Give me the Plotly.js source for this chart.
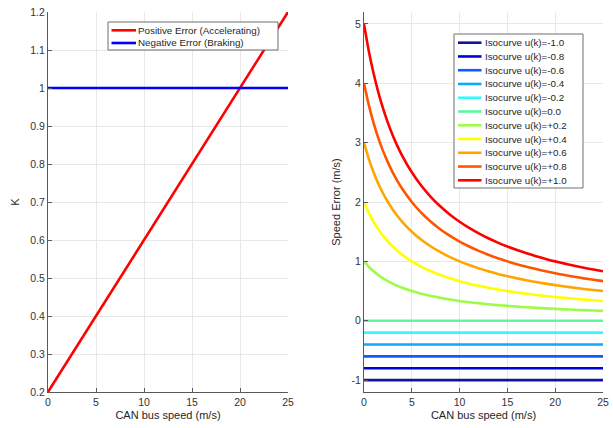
<!DOCTYPE html>
<html>
<head>
<meta charset="utf-8">
<script src="https://cdn.plot.ly/plotly-3.0.1.min.js"></script>
<style>
  html, body { margin: 0; padding: 0; background: #ffffff; }
  #chart { width: 613px; height: 428px; }
</style>
</head>
<body>
<div id="chart"></div>
<script>
// ---- Gain K versus CAN bus speed ----
const kSpeed = [0, 25];
const kAccel = [0.2, 1.2];
const kBrake = [1, 1];
const kNames = ['Positive Error (Accelerating)', 'Negative Error (Braking)'];
const kColors = ['#ff0000', '#0000ff'];
const kTickVals = [0.2, 0.3, 0.4, 0.5, 0.6, 0.7, 0.8, 0.9, 1, 1.1, 1.2];
const kTickText = ['0.2', '0.3', '0.4', '0.5', '0.6', '0.7', '0.8', '0.9', '1', '1.1', '1.2'];

// ---- Speed-error isocurves ----
const isoSpeed = [0, 0.5, 1, 1.5, 2, 2.5, 3, 3.5, 4, 5, 6, 7, 8, 9, 10, 11, 12, 13, 14, 15,
                  16, 17, 18, 19, 20, 21, 22, 23, 24, 25];
const flatSpeed = [0, 25];
const isoM10 = [-1.0, -1.0];
const isoM08 = [-0.8, -0.8];
const isoM06 = [-0.6, -0.6];
const isoM04 = [-0.4, -0.4];
const isoM02 = [-0.2, -0.2];
const iso00  = [0.0, 0.0];
const isoP02 = [1.000, 0.909, 0.833, 0.769, 0.714, 0.667, 0.625, 0.588, 0.556, 0.500, 0.455, 0.417, 0.385, 0.357, 0.333,
                0.313, 0.294, 0.278, 0.263, 0.250, 0.238, 0.227, 0.217, 0.208, 0.200, 0.192, 0.185, 0.179, 0.172, 0.167];
const isoP04 = [2.000, 1.818, 1.667, 1.538, 1.429, 1.333, 1.250, 1.176, 1.111, 1.000, 0.909, 0.833, 0.769, 0.714, 0.667,
                0.625, 0.588, 0.556, 0.526, 0.500, 0.476, 0.455, 0.435, 0.417, 0.400, 0.385, 0.370, 0.357, 0.345, 0.333];
const isoP06 = [3.000, 2.727, 2.500, 2.308, 2.143, 2.000, 1.875, 1.765, 1.667, 1.500, 1.364, 1.250, 1.154, 1.071, 1.000,
                0.938, 0.882, 0.833, 0.789, 0.750, 0.714, 0.682, 0.652, 0.625, 0.600, 0.577, 0.556, 0.536, 0.517, 0.500];
const isoP08 = [4.000, 3.636, 3.333, 3.077, 2.857, 2.667, 2.500, 2.353, 2.222, 2.000, 1.818, 1.667, 1.538, 1.429, 1.333,
                1.250, 1.176, 1.111, 1.053, 1.000, 0.952, 0.909, 0.870, 0.833, 0.800, 0.769, 0.741, 0.714, 0.690, 0.667];
const isoP10 = [5.000, 4.545, 4.167, 3.846, 3.571, 3.333, 3.125, 2.941, 2.778, 2.500, 2.273, 2.083, 1.923, 1.786, 1.667,
                1.563, 1.471, 1.389, 1.316, 1.250, 1.190, 1.136, 1.087, 1.042, 1.000, 0.962, 0.926, 0.893, 0.862, 0.833];
const isoNames = ['Isocurve u(k)=-1.0', 'Isocurve u(k)=-0.8', 'Isocurve u(k)=-0.6', 'Isocurve u(k)=-0.4',
                  'Isocurve u(k)=-0.2', 'Isocurve u(k)=0.0', 'Isocurve u(k)=+0.2', 'Isocurve u(k)=+0.4',
                  'Isocurve u(k)=+0.6', 'Isocurve u(k)=+0.8', 'Isocurve u(k)=+1.0'];
const isoColors = ['#14149a', '#0000dd', '#0d5cff', '#0fa8ff', '#30fcfc', '#60f5a3',
                   '#9ffb48', '#ffff00', '#ffa500', '#ff5500', '#ff0000'];
const errTickVals = [-1, 0, 1, 2, 3, 4, 5];
const errTickText = ['-1', '0', '1', '2', '3', '4', '5'];
const speedTickVals = [0, 5, 10, 15, 20, 25];
const speedTickText = ['0', '5', '10', '15', '20', '25'];

const W = 613, H = 428;
const px = x => x / W;
const py = y => 1 - y / H;
const LW = 2.6;

const traces = [
  { x: kSpeed, y: kAccel, name: kNames[0], line: { color: kColors[0], width: LW } },
  { x: kSpeed, y: kBrake, name: kNames[1], line: { color: kColors[1], width: LW } }
].map(t => Object.assign({ type: 'scatter', mode: 'lines', xaxis: 'x', yaxis: 'y', hoverinfo: 'skip' }, t));

const isoSeries = [
  [flatSpeed, isoM10], [flatSpeed, isoM08], [flatSpeed, isoM06], [flatSpeed, isoM04],
  [flatSpeed, isoM02], [flatSpeed, iso00], [isoSpeed, isoP02], [isoSpeed, isoP04],
  [isoSpeed, isoP06], [isoSpeed, isoP08], [isoSpeed, isoP10]
];
isoSeries.forEach((s, i) => {
  traces.push({
    type: 'scatter', mode: 'lines', x: s[0], y: s[1], name: isoNames[i],
    xaxis: 'x2', yaxis: 'y2', hoverinfo: 'skip',
    line: { color: isoColors[i], width: LW, shape: 'spline', smoothing: 0.8 }
  });
});

const axisStyle = {
  showline: true, linecolor: '#5a5a5a', linewidth: 1,
  ticks: 'inside', ticklen: 4, tickcolor: '#5a5a5a', tickwidth: 1,
  showgrid: true, gridcolor: '#e8e8e8', gridwidth: 1,
  zeroline: false, fixedrange: true,
  tickfont: { family: 'Liberation Sans, Arial, sans-serif', size: 10.5, color: '#333333' },
  tickmode: 'array'
};
const titleFont = { family: 'Liberation Sans, Arial, sans-serif', size: 11, color: '#262626' };

const shapes = [];
const annotations = [];

// Boxed key: a frame, a short line sample and a label per entry
function addKey(names, colors, box, firstRowY, rowStep, lineX0, lineX1, textX) {
  shapes.push({ type: 'rect', xref: 'paper', yref: 'paper',
    x0: px(box[0]), x1: px(box[2]), y0: py(box[3]), y1: py(box[1]),
    line: { color: '#6e6e6e', width: 1 }, fillcolor: '#ffffff', layer: 'above' });
  names.forEach((n, i) => {
    const yy = firstRowY + i * rowStep;
    shapes.push({ type: 'line', xref: 'paper', yref: 'paper',
      x0: px(lineX0), x1: px(lineX1), y0: py(yy), y1: py(yy),
      line: { color: colors[i], width: LW }, layer: 'above' });
    annotations.push({ xref: 'paper', yref: 'paper', x: px(textX), y: py(yy),
      xanchor: 'left', yanchor: 'middle', showarrow: false, text: n, borderpad: 0,
      font: { family: 'Liberation Sans, Arial, sans-serif', size: 9.8, color: '#262626' } });
  });
}
addKey(kNames, kColors, [108, 22, 278, 50], 30.3, 12.7, 111.5, 136, 136.5);
addKey(isoNames, isoColors, [454, 34, 583, 188], 42.7, 13.76, 458, 481.5, 483.5);

const layout = {
  width: W, height: H,
  margin: { l: 0, r: 0, t: 0, b: 0 },
  paper_bgcolor: '#ffffff', plot_bgcolor: '#ffffff',
  showlegend: false,
  xaxis: Object.assign({}, axisStyle, {
    domain: [px(48), px(288)], range: [0, 25], anchor: 'y',
    tickvals: speedTickVals, ticktext: speedTickText,
    title: { text: 'CAN bus speed (m/s)', font: titleFont, standoff: 4 }
  }),
  yaxis: Object.assign({}, axisStyle, {
    domain: [py(392), py(12)], range: [0.2, 1.2], anchor: 'x',
    tickvals: kTickVals, ticktext: kTickText,
    title: { text: 'K', font: titleFont, standoff: 8 }
  }),
  xaxis2: Object.assign({}, axisStyle, {
    domain: [px(364), px(603)], range: [0, 25], anchor: 'y2',
    tickvals: speedTickVals, ticktext: speedTickText,
    title: { text: 'CAN bus speed (m/s)', font: titleFont, standoff: 4 }
  }),
  yaxis2: Object.assign({}, axisStyle, {
    domain: [py(392), py(12)], range: [-1.2, 5.2], anchor: 'x2',
    tickvals: errTickVals, ticktext: errTickText,
    title: { text: 'Speed Error (m/s)', font: titleFont, standoff: 8 }
  }),
  shapes: shapes,
  annotations: annotations
};

Plotly.newPlot('chart', traces, layout, { displayModeBar: false, staticPlot: true });
</script>
</body>
</html>
